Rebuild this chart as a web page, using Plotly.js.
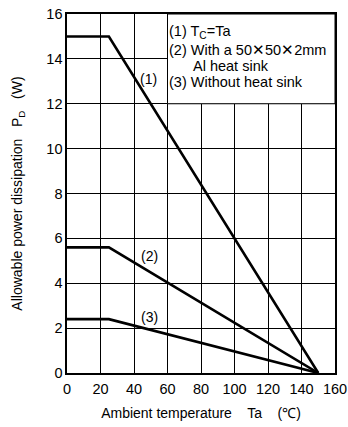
<!DOCTYPE html>
<html>
<head>
<meta charset="utf-8">
<script src="https://cdn.plot.ly/plotly-3.0.1.min.js"></script>
<style>html,body{margin:0;padding:0;background:#fff;}#chart{width:348px;height:427px;}</style>
</head>
<body>
<div id="chart"></div>
<script>
// Ambient temperature Ta (°C) breakpoints
const taPoints = [0, 25, 150];
// Allowable power dissipation PD (W)
const pd1 = [15, 15, 0];     // (1) Tc = Ta
const pd2 = [5.6, 5.6, 0];   // (2) With a 50x50x2mm Al heat sink
const pd3 = [2.4, 2.4, 0];   // (3) Without heat sink
const curveLabels = ["(1)", "(2)", "(3)"];
const labelX = [48.5, 49.5, 49.5];
const labelY = [13.1, 5.2, 2.5];
const xTicks = [0, 20, 40, 60, 80, 100, 120, 140, 160];
const yTicks = [0, 2, 4, 6, 8, 10, 12, 14, 16];
const legendLines = ["(1) T<sub>C</sub>=Ta", "(2) With a 50✕50✕2mm", "Al heat sink", "(3) Without heat sink"];
const legendX = [61, 61, 75.4, 61];
const legendY = [15.18, 14.38, 13.68, 12.98];

const font = "Liberation Sans, Arial, Helvetica, sans-serif";
const series = [pd1, pd2, pd3];
const traces = series.map(s => ({
  x: taPoints, y: s, type: "scatter", mode: "lines",
  line: {color: "#000", width: 2.6}, hoverinfo: "skip", showlegend: false
}));

const annotations = curveLabels.map((t, i) => ({
  x: labelX[i], y: labelY[i], xref: "x", yref: "y", text: t, showarrow: false,
  font: {family: font, size: 14, color: "#000"}
}));
legendLines.forEach((t, i) => annotations.push({
  x: legendX[i], y: legendY[i], xref: "x", yref: "y", xanchor: "left", yanchor: "middle", align: "left",
  text: t, showarrow: false, xshift: -2,
  font: {family: font, size: 14.5, color: "#000"}
}));

const layout = {
  width: 348, height: 427,
  margin: {l: 67, r: 13, t: 14, b: 54},
  paper_bgcolor: "#fff", plot_bgcolor: "#fff",
  font: {family: font, size: 14, color: "#000"},
  xaxis: {
    range: [0, 160], tickvals: xTicks, ticktext: xTicks.map(String),
    showgrid: true, gridcolor: "#000", gridwidth: 1,
    showline: true, linecolor: "#000", linewidth: 1.6, mirror: true,
    zeroline: false, ticks: "", ticklen: 0, ticklabelstandoff: 2,
    tickfont: {family: font, size: 14.5, color: "#000"},
    title: {text: "Ambient temperature    Ta    (℃)", font: {family: font, size: 14, color: "#000"}, standoff: 12}
  },
  yaxis: {
    range: [0, 16], tickvals: yTicks, ticktext: yTicks.map(String),
    showgrid: true, gridcolor: "#000", gridwidth: 1,
    showline: true, linecolor: "#000", linewidth: 1.6, mirror: true,
    zeroline: false, ticks: "", ticklen: 0,
    tickfont: {family: font, size: 14.5, color: "#000"},
    title: {text: "Allowable power dissipation   P<sub>D</sub>   (W)", font: {family: font, size: 14, color: "#000"}, standoff: 20}
  },
  shapes: [{
    type: "rect", xref: "x", yref: "y", x0: 60, x1: 160, y0: 12, y1: 16,
    fillcolor: "#fff", line: {color: "#000", width: 1}, layer: "between"
  }],
  annotations: annotations
};

Plotly.newPlot("chart", traces, layout, {displayModeBar: false, staticPlot: true});
</script>
</body>
</html>
